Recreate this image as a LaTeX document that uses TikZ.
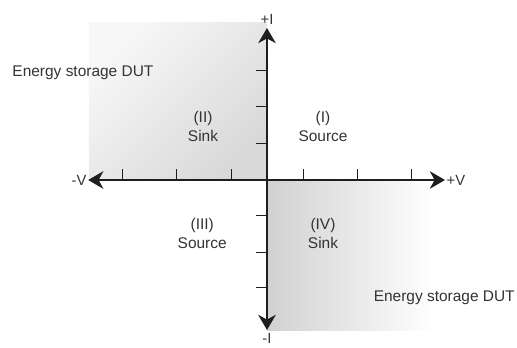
\documentclass[tikz,border=0pt]{standalone}
\usepackage{fontspec}
\setmainfont{Liberation Sans}
\usepackage{tikz}
\usetikzlibrary{arrows.meta}
\usetikzlibrary{positioning}
\usepackage{xcolor}
\definecolor{AxisGray}{RGB}{30,30,30}
\definecolor{TextGray}{RGB}{51,51,51}
\tikzset{
	>={Stealth[length=3.8mm, width=4.4mm, inset=1.2mm]},
	axis/.style={AxisGray, line width=1.3pt, ->},
	tick/.style={AxisGray, line width=0.7pt},
	quadlabel/.style={TextGray, align=center, font=\fontsize{11}{13.5}\selectfont},
	axlabel/.style={TextGray, font=\fontsize{10.5}{12}\selectfont, inner sep=1pt},
	dutlabel/.style={TextGray, font=\fontsize{11}{13.5}\selectfont, inner sep=0pt},
}

\begin{document}
\begin{tikzpicture}
			\useasboundingbox (-6.675,-4.175) rectangle (6.25,4.5);
			% shaded sink quadrants
			\shade[top color=black!3, bottom color=black!15, shading angle=45]
				(-4.45,0) rectangle (0,3.93);
			\shade[left color=black!18, right color=white]
				(0,0) rectangle (4.2,-3.75);
			
			% axis end points
			\coordinate (vneg) at (-4.47,0);
			\coordinate (vpos) at (4.45,0);
			\coordinate (ipos) at (0,3.8);
			\coordinate (ineg) at (0,-3.75);
			
			\draw[axis] (0,0) -- (vpos);
			\draw[axis] (0,0) -- (vneg);
			\draw[axis] (0,0) -- (ipos);
			\draw[axis] (0,0) -- (ineg);
			
			% ticks
			\foreach \x in {-3.62,-2.27,-0.88,0.9,2.25,3.62}{
				\draw[tick] (\x,0) -- (\x,0.28);
			}
			\foreach \y in {-2.68,-1.8,-0.88,0.92,1.83,2.75}{
				\draw[tick] (0,\y) -- (-0.28,\y);
			}
			
			\node[axlabel, right=0pt of vpos] (vposlab) {+V};
			\node[axlabel, left=0pt of vneg] (vneglab) {-V};
			\node[axlabel, above=1pt of ipos] (iposlab) {+I};
			\node[axlabel, below=1pt of ineg] (ineglab) {-I};
			
			% quadrants
			\node[quadlabel] (qI) at (1.4,1.34) {(I)\\Source};
			\node[quadlabel] (qII) at (-1.6,1.34) {(II)\\Sink};
			\node[quadlabel] (qIII) at (-1.62,-1.34) {(III)\\Source};
			\node[quadlabel] (qIV) at (1.4,-1.34) {(IV)\\Sink};
			
			\node[dutlabel, anchor=west] (dutII) at (-6.37,2.67) {Energy storage DUT};
			\node[dutlabel, anchor=east] (dutIV) at (6.2,-2.95) {Energy storage DUT};
		\end{tikzpicture}
\end{document}
